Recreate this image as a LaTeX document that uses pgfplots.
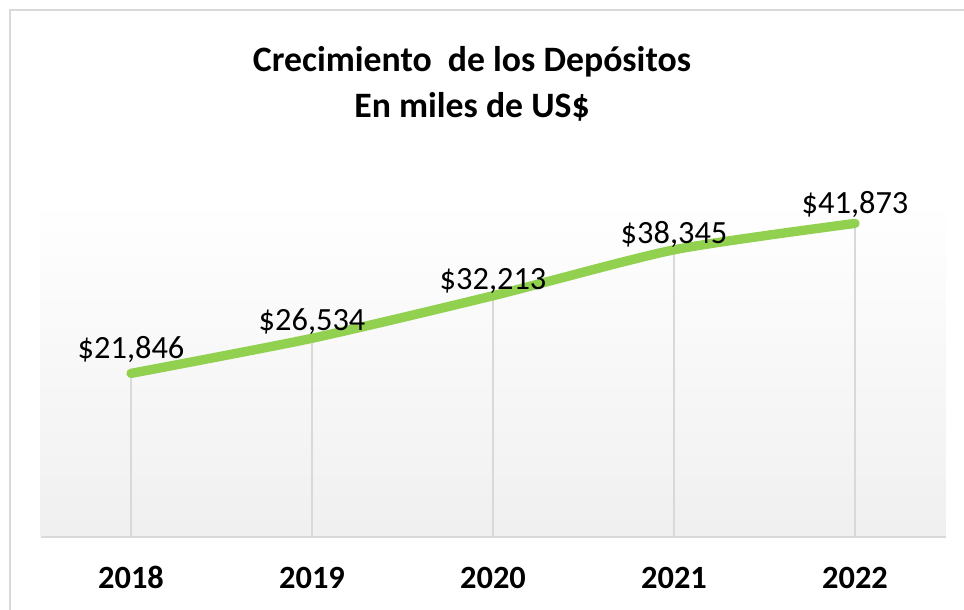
\documentclass[border=0pt]{standalone}
\usepackage{pgfplots}
\pgfplotsset{compat=1.18}
\usepackage{pgfplotstable}
\usepackage{fontspec}
\setmainfont{Carlito}
\definecolor{lgreen}{HTML}{92D050}
\definecolor{lgray}{HTML}{D9D9D9}

\pgfplotstableread{
x year val off
0 2018 21846 11
1 2019 26534 6
2 2020 32213 4.5
3 2021 38345 4.5
4 2022 41873 7.5
}\deposits

\begin{document}
\begin{tikzpicture}
\path[use as bounding box] (0,0) rectangle (723pt,457.5pt);
\fill[white] (0,0) rectangle (723pt,457.5pt);
\draw[lgray, line width=1.9pt] (7.5pt,-5pt) -- (7.5pt,450pt) -- (735pt,450pt);
\begin{axis}[
  at={(30.4pt,54.75pt)}, anchor=south west, scale only axis,
  width=678.75pt, height=252.75pt,
  xmin=-0.5, xmax=4.5, ymin=0, ymax=45000,
  axis x line*=bottom, axis y line=none,
  x axis line style={draw=lgray, line width=1.3pt, -},
  xtick=data, xticklabels={2018,2019,2020,2021,2022},
  major tick length=0pt,
  xticklabel style={font=\fontsize{24.3}{28}\selectfont\bfseries, anchor=base, yshift=-38.5pt, inner sep=0pt},
  axis background/.style={shade, top color=white, bottom color=gray!12},
  clip=false,
  /pgf/number format/.cd, fixed, precision=0, 1000 sep={,}, assume math mode=true,
]
\addplot[lgray, line width=1.1pt, ycomb, no markers] table[x=x, y=val] {\deposits};
\addplot[lgreen, line width=7pt, line cap=round, line join=round, smooth, tension=0.4, no markers,
  visualization depends on={\thisrow{off} \as \off},
  nodes near coords={\$\pgfmathprintnumber{\pgfplotspointmeta}},
  every node near coord/.append style={font=\fontsize{24.3}{28}\selectfont, text=black, anchor=base, yshift=\off pt, inner sep=0pt},
  ] table[x=x, y=val, meta=val] {\deposits};
\end{axis}
\node[anchor=base, font=\fontsize{26.8}{30}\selectfont\bfseries] at (354pt,403.5pt) {Crecimiento\ \ de los Depósitos};
\node[anchor=base, font=\fontsize{26.8}{30}\selectfont\bfseries] at (354pt,369pt) {En miles de US\$};
\end{tikzpicture}
\end{document}
